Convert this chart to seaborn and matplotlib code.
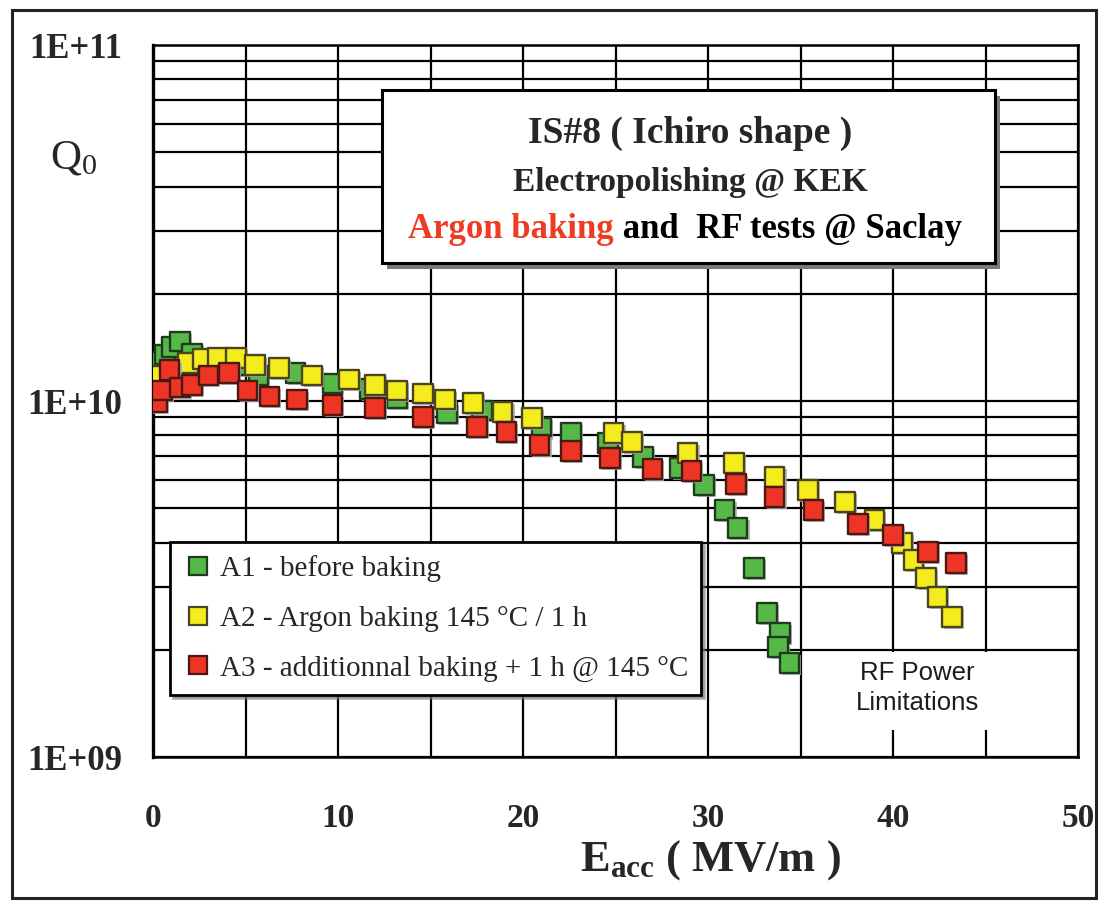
import numpy as np
import pandas as pd
import matplotlib
matplotlib.use("Agg")
import matplotlib.pyplot as plt
import seaborn as sns
from matplotlib.patches import Rectangle
from matplotlib.lines import Line2D
from matplotlib.ticker import LogLocator, NullFormatter, FixedLocator
from matplotlib import patheffects as pe

# ---------------- data ----------------
a1_e = [0.1, 0.65, 1.0, 1.45, 2.1, 3.3, 4.6, 5.7, 7.7, 9.7, 11.7, 13.2, 15.9, 17.8,
        21.0, 22.6, 24.6, 26.5, 28.5, 29.8, 30.9, 31.6, 32.5, 33.2, 33.9, 33.8, 34.4]
a1_q = [1.29e10, 1.35e10, 1.42e10, 1.47e10, 1.36e10, 1.30e10, 1.26e10, 1.18e10, 1.20e10,
        1.12e10, 1.08e10, 1.02e10, 9.25e9, 9.4e9, 8.4e9, 8.13e9, 7.63e9, 6.97e9, 6.49e9,
        5.81e9, 4.94e9, 4.40e9, 3.40e9, 2.54e9, 2.23e9, 2.04e9, 1.84e9]

a2_e = [0.0, 1.9, 2.7, 3.5, 4.5, 5.5, 6.8, 8.6, 10.6, 12.0, 13.2, 14.6, 15.8, 17.3, 18.9,
        20.5, 24.9, 25.9, 28.9, 31.4, 33.6, 35.4, 37.4, 39.0, 40.5, 41.1, 41.8, 42.4, 43.2]
a2_q = [1.18e10, 1.28e10, 1.31e10, 1.32e10, 1.32e10, 1.26e10, 1.24e10, 1.18e10, 1.15e10,
        1.11e10, 1.07e10, 1.05e10, 1.01e10, 9.87e9, 9.31e9, 8.96e9, 8.13e9, 7.67e9, 7.14e9,
        6.70e9, 6.12e9, 5.63e9, 5.20e9, 4.63e9, 3.99e9, 3.57e9, 3.18e9, 2.81e9, 2.47e9]

a3_e = [0.2, 0.5, 0.9, 1.45, 2.1, 3.0, 4.1, 5.1, 6.3, 7.8, 9.7, 12.0, 14.6, 17.5, 19.1,
        20.9, 22.6, 24.7, 27.0, 29.1, 31.5, 33.6, 35.7, 38.1, 40.0, 41.9, 43.4]
a3_q = [9.93e9, 1.07e10, 1.22e10, 1.09e10, 1.11e10, 1.18e10, 1.20e10, 1.07e10, 1.03e10,
        1.01e10, 9.75e9, 9.55e9, 9.02e9, 8.45e9, 8.18e9, 7.52e9, 7.24e9, 6.92e9, 6.44e9,
        6.35e9, 5.85e9, 5.37e9, 4.94e9, 4.51e9, 4.20e9, 3.77e9, 3.51e9]

series_labels = ["A1 - before baking",
                 "A2 - Argon baking 145 °C / 1 h",
                 "A3 - additionnal baking + 1 h @ 145 °C"]
face_colors = ["#56b947", "#f4ec1c", "#ee3424"]
edge_colors = ["#1f3a1f", "#4a4420", "#4a1a12"]

x_ticks = [0, 10, 20, 30, 40, 50]
x_tick_labels = ["0", "10", "20", "30", "40", "50"]
x_minor = [5, 15, 25, 35, 45]
y_ticks = [1e9, 1e10, 1e11]
y_tick_labels = ["1E+09", "1E+10", "1E+11"]

title_lines = ["IS#8 ( Ichiro shape )", "Electropolishing @ KEK"]
title_red = "Argon baking"
title_rest = " and  RF tests @ Saclay"
note_text = "RF Power\nLimitations"

# ---------------- style ----------------
sns.set_style("white")
plt.rcParams["font.family"] = ["Liberation Serif", "DejaVu Serif"]
plt.rcParams["mathtext.fontset"] = "custom"
plt.rcParams["mathtext.rm"] = "Liberation Serif"
plt.rcParams["mathtext.bf"] = "Liberation Serif:bold"
plt.rcParams["mathtext.it"] = "Liberation Serif:italic"

W, H = 1099, 901
fig = plt.figure(figsize=(W / 100, H / 100), dpi=100)
fig.patch.set_facecolor("white")
ax = fig.add_axes([153 / W, (H - 757) / H, 925 / W, 712 / H])

frames = []
for lab, e, q in zip(series_labels, [a1_e, a2_e, a3_e], [a1_q, a2_q, a3_q]):
    frames.append(pd.DataFrame({"E": e, "Q": q, "series": lab}))
df = pd.concat(frames, ignore_index=True)

shadow = [pe.SimplePatchShadow(offset=(1.5, -1.5), shadow_rgbFace="0.68", alpha=0.85), pe.Normal()]
for lab, fc, ec in zip(series_labels, face_colors, edge_colors):
    sub = df[df["series"] == lab]
    sns.scatterplot(data=sub, x="E", y="Q", marker="s", s=200, color=fc,
                    edgecolor=ec, linewidth=1.7, legend=False, ax=ax, zorder=4)
    ax.collections[-1].set_path_effects(shadow)

ax.set_yscale("log")
ax.set_xlim(0, 50)
ax.set_ylim(1e9, 1e11)

ax.xaxis.set_major_locator(FixedLocator(x_ticks))
ax.set_xticklabels(x_tick_labels)
ax.xaxis.set_minor_locator(FixedLocator(x_minor))
ax.yaxis.set_major_locator(FixedLocator(y_ticks))
ax.set_yticklabels(y_tick_labels)
ax.yaxis.set_minor_locator(LogLocator(base=10, subs=np.arange(2, 10)))
ax.yaxis.set_minor_formatter(NullFormatter())

ax.set_axisbelow(True)
ax.grid(which="both", color="black", linewidth=1.6)
for sp in ax.spines.values():
    sp.set_color("black")
    sp.set_linewidth(1.8)
ax.spines["left"].set_linewidth(2.4)

ax.tick_params(which="major", direction="out", length=8, width=1.8, color="black")
ax.tick_params(which="minor", length=0)
ax.tick_params(axis="x", pad=25, labelsize=24)
ax.tick_params(axis="y", pad=14, labelsize=25)
for t in ax.get_xticklabels() + ax.get_yticklabels():
    t.set_fontweight("bold")

ax.set_xlabel(r"$\mathbf{E}_{\mathbf{acc}}$ ( MV/m )", fontsize=32, fontweight="bold")
ax.xaxis.set_label_coords((710 - 153) / 925, (757 - 860) / 712)
ax.xaxis.label.set_va("center")
ax.set_ylabel(r"$\mathrm{Q}_{0}$", fontsize=31, rotation=0)
ax.yaxis.set_label_coords((74 - 153) / 925, (757 - 158) / 712)
ax.yaxis.label.set_va("center")
ax.yaxis.label.set_ha("center")

# white area behind the RF note
ax.add_patch(Rectangle((0.706, 0.038), 0.29, 0.11, transform=ax.transAxes,
                       facecolor="white", edgecolor="none", zorder=2))
ax.text((917 - 153) / 925, (757 - 688) / 712, note_text, transform=ax.transAxes,
        ha="center", va="center", fontsize=18.5, family="Liberation Sans",
        color="#1c1c1c", linespacing=1.35, zorder=3)

# legend
handles = [Line2D([], [], marker="s", ls="", markersize=13, markerfacecolor=fc,
                  markeredgecolor=ec, markeredgewidth=1.6)
           for fc, ec in zip(face_colors, edge_colors)]
leg = ax.legend(handles, series_labels, loc="upper left",
                bbox_to_anchor=(170 / W, 1 - 542 / H), bbox_transform=fig.transFigure,
                prop={"family": "Liberation Serif", "size": 21}, frameon=True,
                fancybox=False, edgecolor="black", framealpha=1,
                shadow={"color": "0.45"}, borderpad=0.45, labelspacing=0.8,
                handlelength=1.0, handletextpad=0.25, borderaxespad=0)
leg.get_frame().set_linewidth(2.0)
leg.set_zorder(8)

# title box
bx0, by0, bx1, by1 = 382, 90, 995, 263
fig.add_artist(Rectangle(((bx0 + 5) / W, 1 - (by1 + 6) / H), (bx1 - bx0) / W, (by1 - by0) / H,
                         transform=fig.transFigure, facecolor="#7a7a7a", edgecolor="none", zorder=9))
fig.add_artist(Rectangle((bx0 / W, 1 - by1 / H), (bx1 - bx0) / W, (by1 - by0) / H,
                         transform=fig.transFigure, facecolor="white", edgecolor="black",
                         linewidth=2.2, zorder=10))
fig.text(690 / W, 1 - 133 / H, title_lines[0], ha="center", va="center", fontsize=27,
         fontweight="bold", zorder=11)
fig.text(690 / W, 1 - 183 / H, title_lines[1], ha="center", va="center", fontsize=24,
         fontweight="bold", zorder=11)
base3 = 1 - 238 / H
t1 = fig.text(408 / W, base3, title_red, ha="left", va="baseline", fontsize=25,
              fontweight="bold", color="#ef3b22", zorder=11)
renderer = fig.canvas.get_renderer()
bb = t1.get_window_extent(renderer)
fig.text(bb.x1 / W, base3, title_rest, ha="left", va="baseline", fontsize=25,
         fontweight="bold", color="black", zorder=11)

# outer frame
fig.add_artist(Rectangle((12 / W, 3 / H), (1096 - 12) / W, (H - 10 - 3) / H,
                         transform=fig.transFigure, facecolor="none", edgecolor="#222222",
                         linewidth=2.2, zorder=12))

fig.savefig("out.png", dpi=100, facecolor="white")
